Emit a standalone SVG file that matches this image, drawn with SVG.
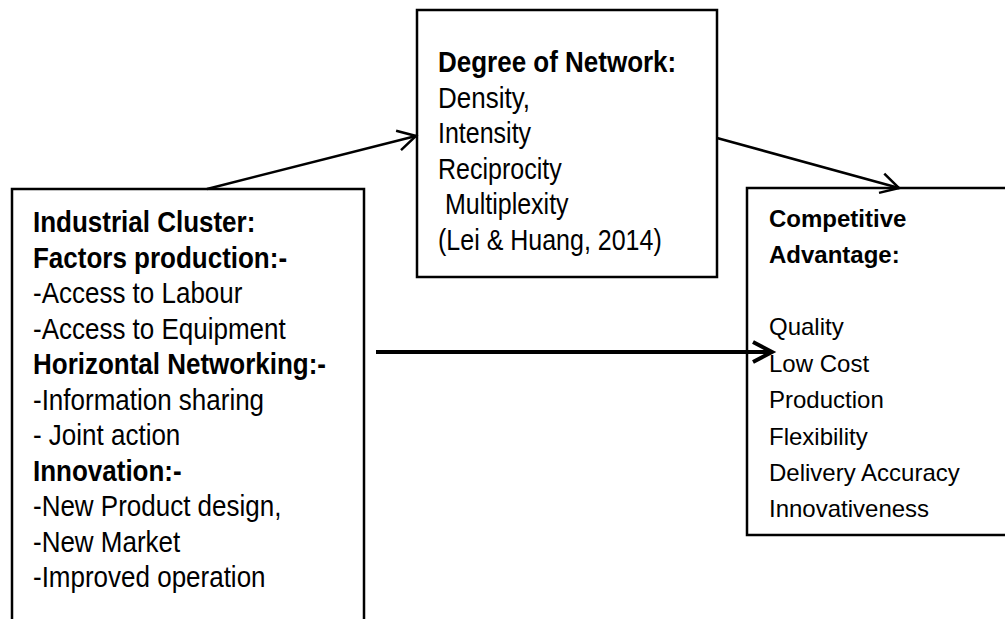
<svg xmlns="http://www.w3.org/2000/svg" width="1005" height="619" viewBox="0 0 1005 619">
  <style>
    .box { fill: #ffffff; stroke: #000000; stroke-width: 2.5; }
    .link { fill: none; stroke: #000000; stroke-width: 2.5; }
    .link-thick { fill: none; stroke: #000000; stroke-width: 4; }
    text { font-family: "Liberation Sans", Arial, sans-serif; fill: #000000; }
    .t26 { font-size: 26px; }
    .t25 { font-size: 25px; }
    .t24 { font-size: 24px; }
    .b { font-weight: bold; }
  </style>
  <defs>
    <marker id="chevron" markerUnits="userSpaceOnUse" viewBox="-24 -12 26 24" refX="0" refY="0" markerWidth="26" markerHeight="24" orient="auto" overflow="visible">
      <path d="M-18,-10 L0,0 L-18,10" fill="none" stroke="#000000" stroke-width="2.5"/>
    </marker>
    <marker id="chevron-thick" markerUnits="userSpaceOnUse" viewBox="-24 -14 26 28" refX="0" refY="0" markerWidth="26" markerHeight="28" orient="auto" overflow="visible">
      <path d="M-19,-10 L0,0 L-19,10" fill="none" stroke="#000000" stroke-width="4"/>
    </marker>
  </defs>

  <!-- left node: cluster factors (box runs off the bottom edge); lines are drawn slightly tall -->
  <g id="industrial-cluster">
    <path class="box" d="M12,625 L12,189 L364,189 L364,625"/>
    <text class="t26 b" transform="translate(33,232) scale(1,1.15)">Industrial Cluster:</text>
    <text class="t26 b" transform="translate(33,267.5) scale(1,1.15)">Factors production:-</text>
    <text class="t26" transform="translate(33,303) scale(1,1.15)">-Access to Labour</text>
    <text class="t26" transform="translate(33,338.5) scale(1,1.15)">-Access to Equipment</text>
    <text class="t26 b" transform="translate(33,374) scale(1,1.15)">Horizontal Networking:-</text>
    <text class="t26" transform="translate(33,409.5) scale(1,1.15)">-Information sharing</text>
    <text class="t26" transform="translate(33,445) scale(1,1.15)">- Joint action</text>
    <text class="t26 b" transform="translate(33,480.5) scale(1,1.15)">Innovation:-</text>
    <text class="t26" transform="translate(33,516) scale(1,1.15)">-New Product design,</text>
    <text class="t26" transform="translate(33,551.5) scale(1,1.15)">-New Market</text>
    <text class="t26" transform="translate(33,587) scale(1,1.15)">-Improved operation</text>
  </g>

  <!-- middle node: network degree -->
  <g id="degree-of-network">
    <rect class="box" x="417" y="10" width="300" height="267"/>
    <text class="t26 b" transform="translate(438,72) scale(1,1.15)">Degree of Network:</text>
    <text class="t26" transform="translate(438,107.6) scale(1,1.15)">Density,</text>
    <text class="t25" transform="translate(438,143) scale(1,1.15)">Intensity</text>
    <text class="t25" transform="translate(438,178.8) scale(1,1.15)">Reciprocity</text>
    <text class="t25" transform="translate(438,214) scale(1,1.15)" xml:space="preserve"> Multiplexity</text>
    <text class="t25" transform="translate(438,250) scale(1,1.15)">(Lei &amp; Huang, 2014)</text>
  </g>

  <!-- right node: outcome (box runs off the right edge) -->
  <g id="competitive-advantage">
    <path class="box" d="M1010,188 L747,188 L747,535 L1010,535"/>
    <text class="t24">
      <tspan class="b" x="769" y="227">Competitive</tspan>
      <tspan class="b" x="769" y="263">Advantage:</tspan>
      <tspan x="769" y="335">Quality</tspan>
      <tspan x="769" y="372">Low Cost</tspan>
      <tspan x="769" y="408">Production</tspan>
      <tspan x="769" y="445">Flexibility</tspan>
      <tspan x="769" y="481">Delivery Accuracy</tspan>
      <tspan x="769" y="517">Innovativeness</tspan>
    </text>
  </g>

  <g id="connectors">
    <line class="link" x1="207" y1="189" x2="416" y2="136" marker-end="url(#chevron)"/>
    <line class="link" x1="717" y1="138" x2="899" y2="188" marker-end="url(#chevron)"/>
    <line class="link-thick" x1="376" y1="352" x2="772" y2="352" marker-end="url(#chevron-thick)"/>
  </g>
</svg>
